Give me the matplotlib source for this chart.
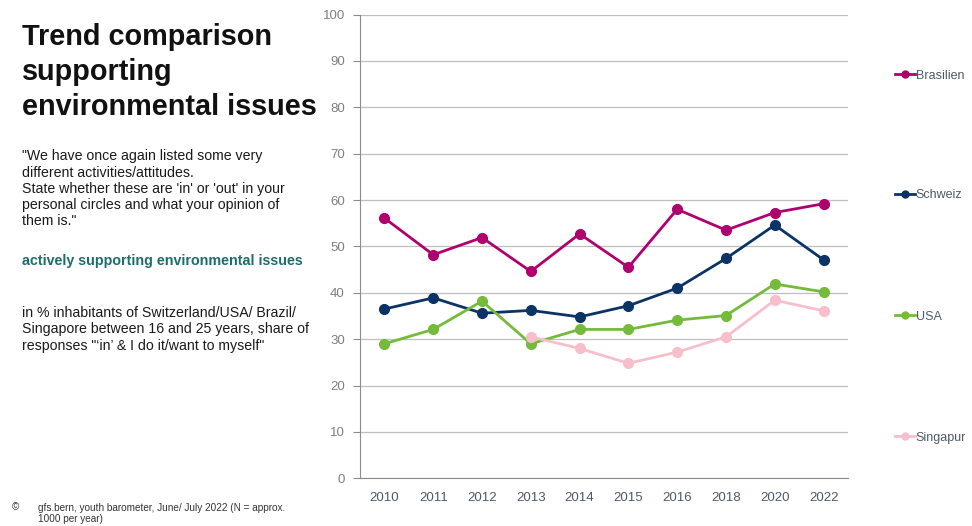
import numpy as np
import matplotlib
matplotlib.use("Agg")
import matplotlib.pyplot as plt
from matplotlib.lines import Line2D

# data
years = ["2010", "2011", "2012", "2013", "2014", "2015", "2016", "2018", "2020", "2022"]
brasilien = [56.1, 48.2, 51.9, 44.6, 52.7, 45.5, 58.0, 53.5, 57.3, 59.2]
schweiz = [36.5, 38.9, 35.6, 36.2, 34.8, 37.2, 41.0, 47.4, 54.6, 47.1]
usa = [29.0, 32.1, 38.2, 29.0, 32.1, 32.1, 34.1, 35.1, 41.9, 40.2]
singapur = [np.nan, np.nan, np.nan, 30.5, 28.0, 24.8, 27.2, 30.5, 38.4, 36.1]

series = [("Brasilien", brasilien, "#B0006E"),
          ("Schweiz", schweiz, "#0A3366"),
          ("USA", usa, "#74BB3C"),
          ("Singapur", singapur, "#F7BFCB")]
# where each legend entry sits (figure fraction, y)
legend_y = [0.856, 0.629, 0.398, 0.168]

plt.rcParams['font.family'] = ['Liberation Sans', 'DejaVu Sans']

fig = plt.figure(figsize=(9.72, 5.26), dpi=100)
ax = fig.add_axes([0.3704, 0.0907, 0.502, 0.8817])

x = np.arange(len(years))
for name, vals, col in series:
    ax.plot(x, vals, color=col, lw=2, marker="o", ms=7, zorder=3)

ax.set_xlim(-0.5, len(years) - 0.5)
ax.set_ylim(0, 100)
ax.set_yticks(range(0, 101, 10))
ax.set_xticks(x)
ax.set_xticklabels(years)
ax.grid(axis="y", color="#BFBFBF", lw=0.9)
ax.set_axisbelow(True)
for s in ["top", "right"]:
    ax.spines[s].set_visible(False)
ax.spines["left"].set_color("#8C8C8C")
ax.spines["bottom"].set_color("#8C8C8C")
ax.tick_params(axis="y", length=5, color="#8C8C8C", labelcolor="#7F7F7F", labelsize=9.5, pad=6)
ax.tick_params(axis="x", length=0, labelcolor="#4D5A66", labelsize=9.5, pad=10)

# legend entries on the right, spread out like the original
for (name, vals, col), ly in zip(series, legend_y):
    h = Line2D([], [], color=col, lw=2, marker="o", ms=5)
    leg = fig.legend(handles=[h], labels=[name], loc="center left",
                     bbox_to_anchor=(0.921, ly), frameon=False,
                     handlelength=1.55, handletextpad=0.1, borderpad=0,
                     borderaxespad=0, prop={'size': 9})
    for t in leg.get_texts():
        t.set_color("#4D5A66")

# left-hand text block
fig.text(0.023, 0.957, "Trend comparison\nsupporting\nenvironmental issues",
         fontsize=20.8, fontweight="bold", va="top", ha="left",
         linespacing=1.33, color="#111111")
fig.text(0.023, 0.716,
         "\"We have once again listed some very\ndifferent activities/attitudes.\n"
         "State whether these are 'in' or 'out' in your\npersonal circles and what your opinion of\nthem is.\"",
         fontsize=10.2, va="top", ha="left", linespacing=1.2, color="#1A1A1A")
fig.text(0.023, 0.504, "actively supporting environmental issues",
         fontsize=10.3, fontweight="bold", va="center", ha="left", color="#1C6E6C")
fig.text(0.023, 0.419,
         "in % inhabitants of Switzerland/USA/ Brazil/\nSingapore between 16 and 25 years, share of\n"
         "responses \"\u2018in\u2019 & I do it/want to myself\"",
         fontsize=10.2, va="top", ha="left", linespacing=1.24, color="#1A1A1A")
fig.text(0.012, 0.036, "\u00a9", fontsize=7, va="center", ha="left", color="#333333")
fig.text(0.039, 0.043, "gfs.bern, youth barometer, June/ July 2022 (N = approx.\n1000 per year)",
         fontsize=7.2, va="top", ha="left", linespacing=1.1, color="#333333")

fig.savefig("out.png", dpi=100)
